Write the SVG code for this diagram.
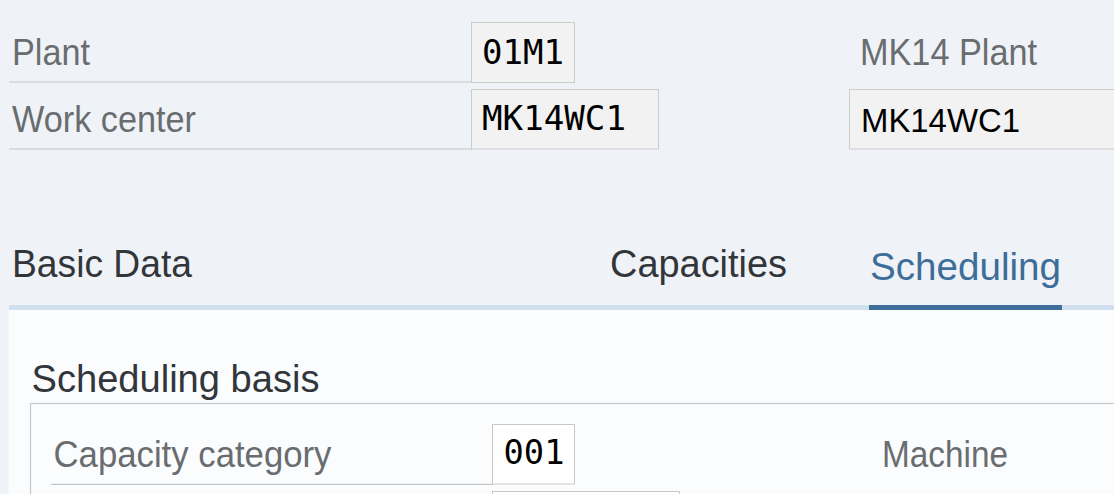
<svg xmlns="http://www.w3.org/2000/svg" width="1114" height="494" viewBox="0 0 1114 494">
  <style>
    .lbl { font-family: "Liberation Sans", Arial, sans-serif; font-size: 37px; fill: #6a6d70; }
    .tab { font-family: "Liberation Sans", Arial, sans-serif; font-size: 38px; fill: #32363a; }
    .mono { font-family: "DejaVu Sans Mono", "Liberation Mono", monospace; font-size: 34px; fill: #000000; }
    .val { font-family: "Liberation Sans", Arial, sans-serif; font-size: 34px; fill: #000000; }
    .field { fill: #f2f2f2; stroke: #cccccc; stroke-width: 1; }
    .fieldw { fill: #ffffff; stroke: #c8c8c8; stroke-width: 1; }
    .rule { stroke: #c4c4c4; stroke-width: 1.2; fill: none; }
  </style>
  <rect x="0" y="0" width="1114" height="494" fill="#eff3f8"/>

  <g id="plant">
    <text class="lbl" x="12" y="65" textLength="78" lengthAdjust="spacingAndGlyphs">Plant</text>
    <line class="rule" x1="9" y1="82" x2="472" y2="82"/>
    <rect class="field" x="471.5" y="22.5" width="103" height="60"/>
    <text class="mono" x="482" y="63.5" textLength="82" lengthAdjust="spacingAndGlyphs">01M1</text>
  </g>

  <g id="work-center">
    <text class="lbl" x="12" y="132" textLength="184" lengthAdjust="spacingAndGlyphs">Work center</text>
    <line class="rule" x1="9" y1="149" x2="472" y2="149"/>
    <rect class="field" x="471.5" y="89.5" width="187" height="59.5"/>
    <text class="mono" x="482" y="129.5" textLength="144" lengthAdjust="spacingAndGlyphs">MK14WC1</text>
  </g>

  <g id="mk14-plant">
    <text class="lbl" x="860" y="65" textLength="177" lengthAdjust="spacingAndGlyphs">MK14 Plant</text>
    <rect class="field" x="849.5" y="89.5" width="300" height="59.5"/>
    <text class="val" x="861" y="131.5" textLength="159" lengthAdjust="spacingAndGlyphs">MK14WC1</text>
  </g>

  <g id="tabs">
    <text class="tab" x="12" y="277" textLength="180" lengthAdjust="spacingAndGlyphs">Basic Data</text>
    <text class="tab" x="610" y="277" textLength="177" lengthAdjust="spacingAndGlyphs">Capacities</text>
    <text class="tab" x="870" y="280" textLength="191" lengthAdjust="spacingAndGlyphs" style="fill:#3d6d99">Scheduling</text>
    <rect x="9" y="305" width="1105" height="5" fill="#d1e0ee"/>
    <rect x="869" y="305" width="193" height="5" fill="#3f6e99"/>
  </g>

  <rect id="panel" x="8.5" y="310" width="1106" height="184" fill="#fbfcfe"/>

  <g id="scheduling-basis">
    <text class="tab" x="31.5" y="391.5" textLength="288" lengthAdjust="spacingAndGlyphs">Scheduling basis</text>
    <rect x="30.5" y="403.5" width="1100" height="120" fill="none" stroke="#c8c8c8" stroke-width="1.2"/>
  </g>

  <g id="capacity-category">
    <text class="lbl" x="53.5" y="466.5" textLength="278" lengthAdjust="spacingAndGlyphs">Capacity category</text>
    <line class="rule" x1="51" y1="484.3" x2="493" y2="484.3"/>
    <rect class="fieldw" x="492.5" y="424.5" width="82" height="59.5"/>
    <text class="mono" x="503.5" y="463.5" textLength="61" lengthAdjust="spacingAndGlyphs">001</text>
    <rect class="fieldw" x="492.5" y="491.5" width="187" height="40"/>
    <text class="lbl" x="882" y="466.5" textLength="126" lengthAdjust="spacingAndGlyphs">Machine</text>
  </g>
</svg>
